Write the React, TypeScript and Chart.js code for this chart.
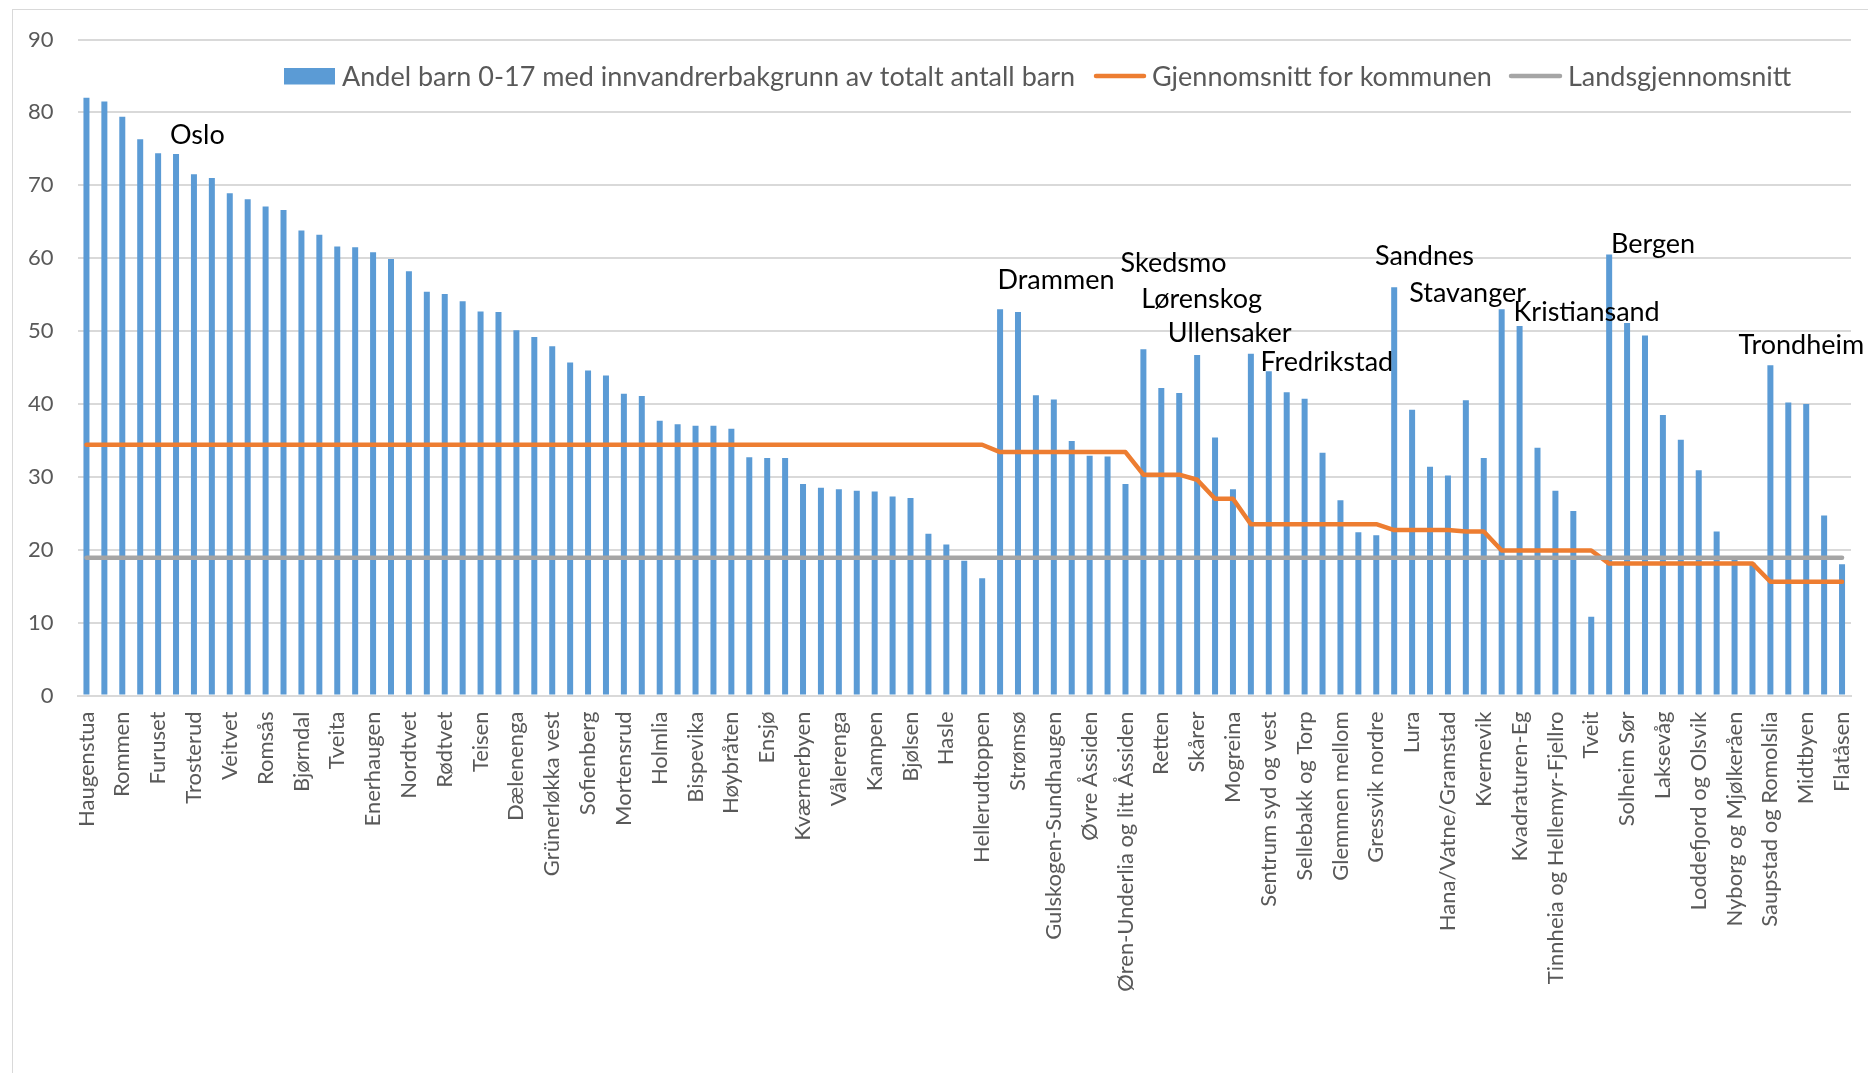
import React, { useEffect, useRef } from 'react';
import { Chart, registerables } from 'chart.js';

Chart.register(...registerables);

// Category names (only every second one is printed on the axis in the source chart)
const categories: string[] = [
  'Haugenstua', '', 'Rommen', '', 'Furuset', '', 'Trosterud', '', 'Veitvet', '',
  'Romsås', '', 'Bjørndal', '', 'Tveita', '', 'Enerhaugen', '', 'Nordtvet', '',
  'Rødtvet', '', 'Teisen', '', 'Dælenenga', '', 'Grünerløkka vest', '', 'Sofienberg', '',
  'Mortensrud', '', 'Holmlia', '', 'Bispevika', '', 'Høybråten', '', 'Ensjø', '',
  'Kværnerbyen', '', 'Vålerenga', '', 'Kampen', '', 'Bjølsen', '', 'Hasle', '',
  'Hellerudtoppen', '', 'Strømsø', '', 'Gulskogen-Sundhaugen', '', 'Øvre Åssiden', '', 'Øren-Underlia og litt Åssiden', '',
  'Retten', '', 'Skårer', '', 'Mogreina', '', 'Sentrum syd og vest', '', 'Sellebakk og Torp', '',
  'Glemmen mellom', '', 'Gressvik nordre', '', 'Lura', '', 'Hana/Vatne/Gramstad', '', 'Kvernevik', '',
  'Kvadraturen-Eg', '', 'Tinnheia og Hellemyr-Fjellro', '', 'Tveit', '', 'Solheim Sør', '', 'Laksevåg', '',
  'Loddefjord og Olsvik', '', 'Nyborg og Mjølkeråen', '', 'Saupstad og Romolslia', '', 'Midtbyen', '', 'Flatåsen',
];

// Andel barn 0-17 med innvandrerbakgrunn (%)
const childShare: number[] = [
  82.0, 81.5, 79.4, 76.3, 74.4, 74.3, 71.5, 71.0, 68.9, 68.1,
  67.1, 66.6, 63.8, 63.2, 61.6, 61.5, 60.8, 59.9, 58.2, 55.4,
  55.1, 54.1, 52.7, 52.6, 50.1, 49.2, 47.9, 45.7, 44.6, 43.9,
  41.4, 41.1, 37.7, 37.2, 37.0, 37.0, 36.6, 32.7, 32.6, 32.6,
  29.0, 28.5, 28.3, 28.1, 28.0, 27.3, 27.1, 22.2, 20.7, 18.5,
  16.1, 53.0, 52.6, 41.2, 40.6, 34.9, 32.9, 32.8, 29.0, 47.5,
  42.2, 41.5, 46.7, 35.4, 28.3, 46.9, 44.5, 41.6, 40.7, 33.3,
  26.8, 22.4, 22.0, 56.0, 39.2, 31.4, 30.2, 40.5, 32.6, 53.0,
  50.7, 34.0, 28.1, 25.3, 10.8, 60.5, 51.1, 49.4, 38.5, 35.1,
  30.9, 22.5, 18.8, 18.2, 45.3, 40.2, 40.0, 24.7, 18.0,
];

// Gjennomsnitt for kommunen
const municipalAverage: number[] = [
  34.4, 34.4, 34.4, 34.4, 34.4, 34.4, 34.4, 34.4, 34.4, 34.4,
  34.4, 34.4, 34.4, 34.4, 34.4, 34.4, 34.4, 34.4, 34.4, 34.4,
  34.4, 34.4, 34.4, 34.4, 34.4, 34.4, 34.4, 34.4, 34.4, 34.4,
  34.4, 34.4, 34.4, 34.4, 34.4, 34.4, 34.4, 34.4, 34.4, 34.4,
  34.4, 34.4, 34.4, 34.4, 34.4, 34.4, 34.4, 34.4, 34.4, 34.4,
  34.4, 33.4, 33.4, 33.4, 33.4, 33.4, 33.4, 33.4, 33.4, 30.3,
  30.3, 30.3, 29.6, 27.0, 27.0, 23.5, 23.5, 23.5, 23.5, 23.5,
  23.5, 23.5, 23.5, 22.7, 22.7, 22.7, 22.7, 22.5, 22.5, 19.9,
  19.9, 19.9, 19.9, 19.9, 19.9, 18.1, 18.1, 18.1, 18.1, 18.1,
  18.1, 18.1, 18.1, 18.1, 15.6, 15.6, 15.6, 15.6, 15.6,
];

// Landsgjennomsnitt
const nationalAverage: number[] = [
  18.9, 18.9, 18.9, 18.9, 18.9, 18.9, 18.9, 18.9, 18.9, 18.9,
  18.9, 18.9, 18.9, 18.9, 18.9, 18.9, 18.9, 18.9, 18.9, 18.9,
  18.9, 18.9, 18.9, 18.9, 18.9, 18.9, 18.9, 18.9, 18.9, 18.9,
  18.9, 18.9, 18.9, 18.9, 18.9, 18.9, 18.9, 18.9, 18.9, 18.9,
  18.9, 18.9, 18.9, 18.9, 18.9, 18.9, 18.9, 18.9, 18.9, 18.9,
  18.9, 18.9, 18.9, 18.9, 18.9, 18.9, 18.9, 18.9, 18.9, 18.9,
  18.9, 18.9, 18.9, 18.9, 18.9, 18.9, 18.9, 18.9, 18.9, 18.9,
  18.9, 18.9, 18.9, 18.9, 18.9, 18.9, 18.9, 18.9, 18.9, 18.9,
  18.9, 18.9, 18.9, 18.9, 18.9, 18.9, 18.9, 18.9, 18.9, 18.9,
  18.9, 18.9, 18.9, 18.9, 18.9, 18.9, 18.9, 18.9, 18.9,
];

const seriesNames: string[] = [
  'Andel barn 0-17 med innvandrerbakgrunn av totalt antall barn',
  'Gjennomsnitt for kommunen',
  'Landsgjennomsnitt',
];

// Municipality names written onto the plot (category position, value at text baseline)
const cityNames: string[] = ['Oslo', 'Drammen', 'Skedsmo', 'Lørenskog', 'Ullensaker', 'Fredrikstad', 'Sandnes', 'Stavanger', 'Kristiansand', 'Bergen', 'Trondheim'];
const cityIndex: number[] = [6.19, 54.12, 60.68, 62.25, 63.82, 69.24, 74.69, 77.1, 83.74, 87.45, 95.73];
const cityValue: number[] = [75.7, 55.75, 58.1, 53.2, 48.5, 44.5, 59.0, 54.0, 51.4, 60.75, 46.8];

const BLUE = '#5B9BD5';
const ORANGE = '#ED7D31';
const GREY = '#A5A5A5';
const GRID = '#D9D9D9';
const TEXT = '#595959';
const FONT = 'Lato';

const cityLabelPlugin = {
  id: 'cityLabels',
  afterDatasetsDraw(chart: any) {
    const { ctx, scales } = chart;
    ctx.save();
    ctx.font = `27px ${FONT}`;
    ctx.fillStyle = '#000000';
    ctx.textAlign = 'center';
    ctx.textBaseline = 'alphabetic';
    cityNames.forEach((name, i) => {
      ctx.fillText(name, scales.x.getPixelForValue(cityIndex[i]), scales.y.getPixelForValue(cityValue[i]));
    });
    ctx.restore();
  },
};

const legendPlugin = {
  id: 'insideLegend',
  afterDraw(chart: any) {
    const { ctx } = chart;
    const cy = 76;
    ctx.save();
    ctx.font = `27px ${FONT}`;
    ctx.fillStyle = TEXT;
    ctx.textBaseline = 'alphabetic';
    ctx.textAlign = 'left';
    // bar swatch
    ctx.fillStyle = BLUE;
    ctx.fillRect(284, 68, 51, 16.5);
    ctx.fillStyle = TEXT;
    ctx.fillText(seriesNames[0], 342, 86);
    // orange line swatch
    ctx.lineCap = 'round';
    ctx.lineWidth = 4.5;
    ctx.strokeStyle = ORANGE;
    ctx.beginPath();
    ctx.moveTo(1096, cy);
    ctx.lineTo(1144, cy);
    ctx.stroke();
    ctx.fillText(seriesNames[1], 1152, 86);
    // grey line swatch
    ctx.strokeStyle = GREY;
    ctx.beginPath();
    ctx.moveTo(1511, cy);
    ctx.lineTo(1560, cy);
    ctx.stroke();
    ctx.fillText(seriesNames[2], 1568, 86);
    ctx.restore();
  },
};

export default function App() {
  const canvasRef = useRef<HTMLCanvasElement | null>(null);

  useEffect(() => {
    if (!canvasRef.current) return;
    const chart = new Chart(canvasRef.current, {
      type: 'bar',
      data: {
        labels: categories,
        datasets: [
          {
            type: 'line',
            label: seriesNames[2],
            data: nationalAverage,
            borderColor: GREY,
            backgroundColor: GREY,
            borderWidth: 4.5,
            pointRadius: 0,
            borderCapStyle: 'round',
            borderJoinStyle: 'round',
            tension: 0,
            order: 0,
          } as any,
          {
            type: 'line',
            label: seriesNames[1],
            data: municipalAverage,
            borderColor: ORANGE,
            backgroundColor: ORANGE,
            borderWidth: 4.5,
            pointRadius: 0,
            borderCapStyle: 'round',
            borderJoinStyle: 'round',
            tension: 0,
            order: 1,
          } as any,
          {
            type: 'bar',
            label: seriesNames[0],
            data: childShare,
            backgroundColor: BLUE,
            barPercentage: 0.335,
            categoryPercentage: 1,
            order: 2,
          } as any,
        ],
      },
      options: {
        animation: false,
        responsive: false,
        maintainAspectRatio: false,
        layout: { autoPadding: false, padding: { left: 0, right: 17, top: 39.5, bottom: 0 } },
        plugins: {
          legend: { display: false },
          tooltip: { enabled: false },
        },
        scales: {
          x: {
            offset: true,
            grid: { display: false, drawTicks: false },
            border: { display: true, color: GRID, width: 2 },
            ticks: {
              autoSkip: false,
              minRotation: 90,
              maxRotation: 90,
              padding: 16,
              color: TEXT,
              font: { family: FONT, size: 22 },
            },
            afterFit: (scale: any) => {
              scale.height = 377.5;
              scale.paddingLeft = 0;
              scale.paddingRight = 0;
            },
          },
          y: {
            min: 0,
            max: 90,
            ticks: {
              stepSize: 10,
              padding: 24,
              color: TEXT,
              font: { family: FONT, size: 22 },
            },
            grid: { color: GRID, lineWidth: 2, drawTicks: false },
            border: { display: false },
            afterFit: (scale: any) => {
              scale.width = 77.5;
              scale.paddingTop = 0;
              scale.paddingBottom = 0;
            },
          },
        },
      } as any,
      plugins: [cityLabelPlugin, legendPlugin],
    });
    if ((document as any).fonts && (document as any).fonts.ready) {
      (document as any).fonts.ready.then(() => chart.update());
    }
    return () => chart.destroy();
  }, []);

  return (
    <div style={{ position: 'fixed', left: 0, top: 0, width: 1868, height: 1073, background: '#ffffff', overflow: 'hidden' }}>
      <div
        style={{
          position: 'absolute',
          left: 12,
          top: 9,
          width: 1900,
          height: 1100,
          border: `1.5px solid ${GRID}`,
        }}
      />
      <canvas ref={canvasRef} width={1868} height={1073} style={{ position: 'absolute', left: 0, top: 0, width: 1868, height: 1073 }} />
    </div>
  );
}
